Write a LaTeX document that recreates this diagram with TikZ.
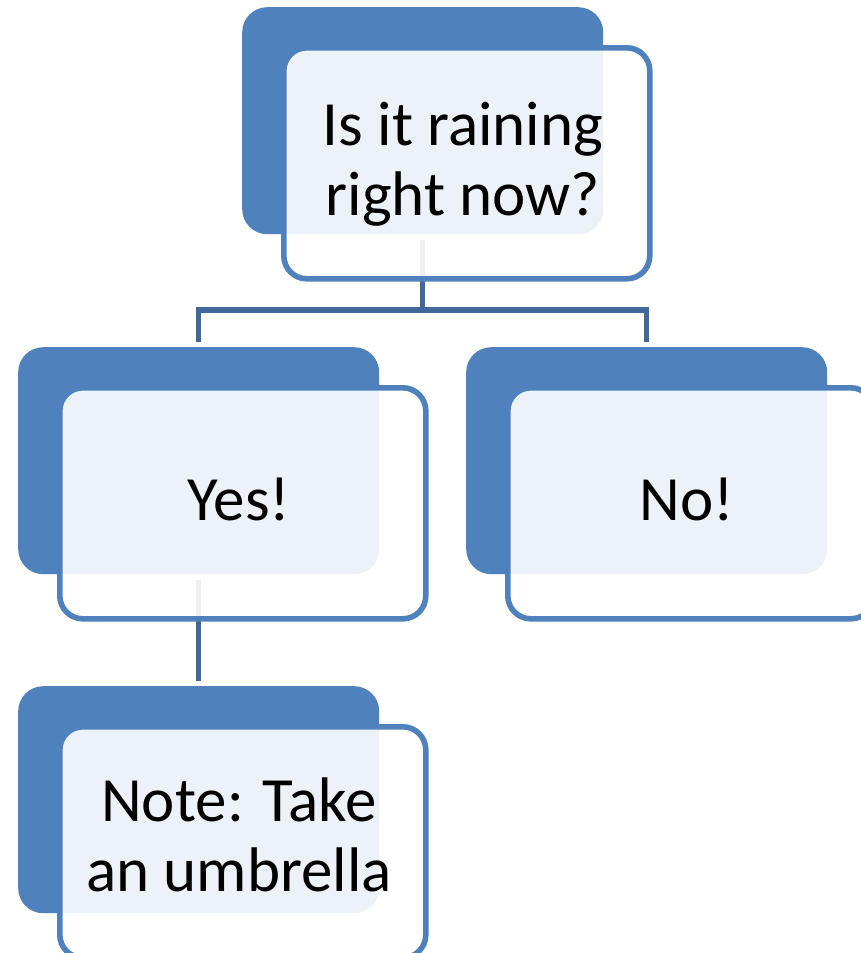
\documentclass[tikz,border=0pt]{standalone}
\usepackage{fontspec}
\setmainfont{Carlito}
\definecolor{accent}{RGB}{79,129,189}
\definecolor{connc}{RGB}{64,104,152}
\tikzset{
  x=1pt, y=1pt,
  backbox/.style={rectangle, rounded corners=25pt, fill=accent, draw=none,
    minimum width=361pt, minimum height=227pt, inner sep=0pt, anchor=north west},
  frontbox/.style={rectangle, rounded corners=23pt, fill=white, fill opacity=0.9,
    draw=accent, draw opacity=1, line width=5.6pt,
    minimum width=366pt, minimum height=231pt, inner sep=0pt, anchor=north west},
  boxtext/.style={align=center, inner sep=0pt, text=black,
    font=\fontsize{63}{70}\selectfont},
  conn/.style={draw=connc, line width=5.4pt, line join=miter}
}
\begin{document}
\begin{tikzpicture}
\useasboundingbox (0,0) rectangle (860,-953);
% back boxes
\node[backbox] (topback) at (242,-7) {};
\node[backbox] (yesback) at (18,-347) {};
\node[backbox] (noback) at (466,-347) {};
\node[backbox] (noteback) at (18,-686) {};
% connectors
\coordinate (bus) at (0,-310);
\draw[conn] ([yshift=-6pt]topback.south) -- (topback.south |- bus) -| ([yshift=5pt]yesback.north);
\draw[conn] (topback.south |- bus) -| ([yshift=5pt]noback.north);
\draw[conn] ([yshift=-6pt]yesback.south) -- ([yshift=5pt]noteback.north);
% front boxes
\node[frontbox] (topfront) at (281,-45) {};
\node[frontbox] (yesfront) at (57,-385) {};
\node[frontbox] (nofront) at (505,-385) {};
\node[frontbox] (notefront) at (57,-724) {};
% texts
\node[boxtext] (toptext) at (463,-164) {Is it raining\\right now?};
\node[boxtext] (yestext) at (239,-499) {Yes!};
\node[boxtext] (notext) at (687,-499) {No!};
\node[boxtext] (notetext) at (239,-835) {Note: Take\\an umbrella};
\end{tikzpicture}
\end{document}
